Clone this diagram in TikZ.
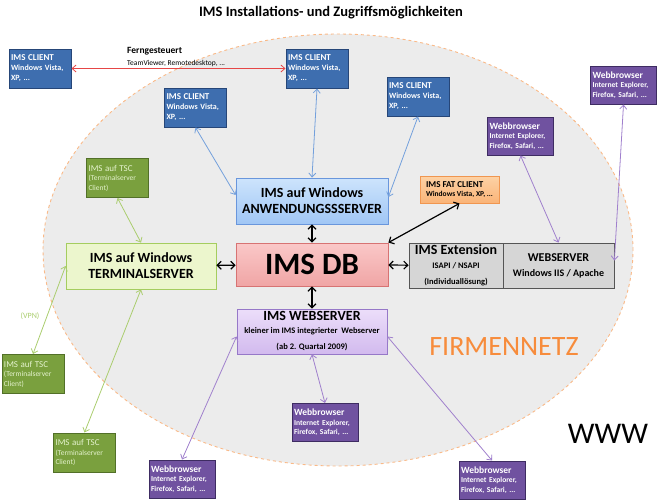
\documentclass[tikz,border=0pt]{standalone}
\usepackage{fontspec}
\setmainfont{Carlito}
\usetikzlibrary{arrows.meta}
\definecolor{clientfill}{RGB}{62,110,175}
\definecolor{clientline}{RGB}{38,70,120}
\definecolor{browserfill}{RGB}{112,82,160}
\definecolor{browserline}{RGB}{62,44,98}
\definecolor{tscfill}{RGB}{122,160,62}
\definecolor{tscline}{RGB}{82,112,40}
\definecolor{tsctext}{RGB}{228,242,205}
\definecolor{anwtop}{RGB}{205,228,252}
\definecolor{anwbot}{RGB}{160,198,245}
\definecolor{anwline}{RGB}{105,150,220}
\definecolor{dbtop}{RGB}{250,200,200}
\definecolor{dbbot}{RGB}{240,165,165}
\definecolor{dbline}{RGB}{215,115,115}
\definecolor{tsfill}{RGB}{236,246,205}
\definecolor{tsline}{RGB}{165,205,95}
\definecolor{webtop}{RGB}{236,222,250}
\definecolor{webbot}{RGB}{210,186,238}
\definecolor{webline}{RGB}{150,120,200}
\definecolor{fattop}{RGB}{253,210,165}
\definecolor{fatbot}{RGB}{250,180,120}
\definecolor{fatline}{RGB}{240,150,80}
\definecolor{extfill}{RGB}{214,214,214}
\definecolor{extline}{RGB}{85,85,85}
\definecolor{netfill}{RGB}{236,236,236}
\definecolor{netline}{RGB}{250,185,135}
\definecolor{netorange}{RGB}{247,140,60}
\definecolor{linkblue}{RGB}{115,160,220}
\definecolor{linkgreen}{RGB}{170,205,110}
\definecolor{linkpurple}{RGB}{160,128,205}
\definecolor{linkred}{RGB}{230,70,70}
\begin{document}
\begin{tikzpicture}[x=1pt,y=-1pt,
  box/.style={draw, rectangle, line width=1pt, align=center, inner sep=1pt},
  client/.style={box, fill=clientfill, draw=clientline, text=white, align=left,
    minimum width=62pt, minimum height=39pt, text width=58pt,
    font=\fontsize{8}{10}\selectfont\bfseries},
  browser/.style={box, fill=browserfill, draw=browserline, text=white, align=left,
    minimum width=66pt, minimum height=38pt, text width=62pt,
    font=\fontsize{7.6}{9.5}\selectfont\bfseries},
  tsc/.style={box, fill=tscfill, draw=tscline, text=tsctext, align=left,
    minimum width=62pt, minimum height=39pt, text width=58pt,
    font=\fontsize{7.5}{9.5}\selectfont},
  server/.style={box, line width=0.8pt, font=\fontsize{14}{16}\selectfont\bfseries},
  link/.style={line width=0.8pt, {Straight Barb[length=4pt,width=7pt]}-{Straight Barb[length=4pt,width=7pt]}},
  dblink/.style={line width=1.2pt, {Straight Barb[length=4pt,width=8pt]}-{Straight Barb[length=4pt,width=8pt]}}]
\useasboundingbox (0,0) rectangle (662,501);

% network
\draw[netline, dashed, line width=0.9pt, fill=netfill] (338,250) ellipse [x radius=295pt, y radius=216pt];
\node[font=\fontsize{14.5}{17}\selectfont\bfseries] (title) at (331,13) {IMS Installations- und Zugriffsmöglichkeiten};
\node[text=netorange, font=\fontsize{28}{30}\selectfont] (firma) at (504,347) {FIRMENNETZ};
\node[font=\fontsize{30}{32}\selectfont] (www) at (608,434) {WWW};

% servers
\node[server, top color=anwtop, bottom color=anwbot, draw=anwline, minimum width=152pt, minimum height=46pt] (anw) at (312,201) {IMS auf Windows\\ANWENDUNGSSSERVER};
\node[server, top color=dbtop, bottom color=dbbot, draw=dbline, minimum width=152pt, minimum height=43pt, font=\fontsize{31}{33}\selectfont\bfseries] (db) at (312,264.5) {IMS DB};
\node[server, fill=tsfill, draw=tsline, minimum width=150pt, minimum height=46pt] (ts) at (141,266) {IMS auf Windows\\TERMINALSERVER};
\node[server, top color=webtop, bottom color=webbot, draw=webline, minimum width=150pt, minimum height=45pt] (web) at (312,331.5) {IMS WEBSERVER\\[-3pt]{\fontsize{8.5}{10.5}\selectfont kleiner im IMS integrierter~ Webserver}\\{\fontsize{8.5}{10.5}\selectfont (ab 2. Quartal 2009)}};
\node[server, fill=extfill, draw=extline, minimum width=94pt, minimum height=45pt] (ext) at (456,265.5) {IMS Extension\\[-2pt]{\fontsize{8.5}{10.5}\selectfont ISAPI / NSAPI}\\{\fontsize{8.5}{10.5}\selectfont (Individuallösung)}};
\node[server, fill=extfill, draw=extline, minimum width=111pt, minimum height=45pt, font=\fontsize{12}{15}\selectfont\bfseries] (websrv) at (558.5,265.5) {WEBSERVER\\{\fontsize{10}{13}\selectfont Windows IIS / Apache}};
\node[box, line width=0.8pt, top color=fattop, bottom color=fatbot, draw=fatline, align=left, minimum width=79pt, minimum height=27pt, font=\fontsize{7.5}{9.5}\selectfont\bfseries] (fat) at (459.5,189.5) {{\fontsize{9}{10}\selectfont IMS FAT CLIENT}\\Windows Vista, XP, ...};

% clients
\node[client] (cl1) at (40,68.5) {{\fontsize{9}{10}\selectfont IMS CLIENT}\\Windows Vista,\\XP, ...};
\node[client] (cl2) at (317,68.5) {{\fontsize{9}{10}\selectfont IMS CLIENT}\\Windows Vista,\\XP, ...};
\node[client] (cl3) at (195.5,107.5) {{\fontsize{9}{10}\selectfont IMS CLIENT}\\Windows Vista,\\XP, ...};
\node[client] (cl4) at (418,96.5) {{\fontsize{9}{10}\selectfont IMS CLIENT}\\Windows Vista,\\XP, ...};
\node[align=left, inner sep=0pt] (fern) at (127,57.5) [anchor=west] {{\fontsize{9.5}{11}\selectfont\bfseries Ferngesteuert}\\{\fontsize{7.5}{10}\selectfont TeamViewer, Remotedesktop, ...}};

% browsers
\node[browser] (wb1) at (623.5,85) {{\fontsize{9.5}{11}\selectfont Webbrowser}\\Internet Explorer,\\Firefox, Safari, ...};
\node[browser] (wb2) at (520.5,136) {{\fontsize{9.5}{11}\selectfont Webbrowser}\\Internet Explorer,\\Firefox, Safari, ...};
\node[browser] (wb3) at (182,479) {{\fontsize{9.5}{11}\selectfont Webbrowser}\\Internet Explorer,\\Firefox, Safari, ...};
\node[browser] (wb4) at (325,422.5) {{\fontsize{9.5}{11}\selectfont Webbrowser}\\Internet Explorer,\\Firefox, Safari, ...};
\node[browser] (wb5) at (492,480) {{\fontsize{9.5}{11}\selectfont Webbrowser}\\Internet Explorer,\\Firefox, Safari, ...};

% terminalserver clients
\node[tsc] (tsc1) at (117.5,178) {{\fontsize{9}{10}\selectfont IMS auf TSC}\\(Terminalserver\\Client)};
\node[tsc] (tsc2) at (33,374) {{\fontsize{9}{10}\selectfont IMS auf TSC}\\(Terminalserver\\Client)};
\node[tsc] (tsc3) at (84.5,452.5) {{\fontsize{9}{10}\selectfont IMS auf TSC}\\(Terminalserver\\Client)};
\node[text=linkgreen, font=\fontsize{8}{10}\selectfont] (vpn) at (30,316) {(VPN)};

% connectors
\draw[link, linkred](cl1) -- (cl2);
\draw[link, linkblue](cl3.south) -- ([yshift=6pt]anw.west);
\draw[link, linkblue](cl2.south) -- (anw.north);
\draw[link, linkblue](cl4.south) -- ([yshift=4pt]anw.east);
\draw[link, linkgreen](tsc1.south) -- (ts.north);
\draw[link, linkgreen](ts.west) -- (tsc2.north);
\draw[link, linkgreen](ts.south) -- (tsc3.north);
\draw[link, linkpurple]([yshift=-5pt]web.west) -- (wb3.north);
\draw[link, linkpurple](web.south) -- (wb4.north);
\draw[link, linkpurple]([yshift=-5pt]web.east) -- (wb5.north);
\draw[link, linkpurple](wb2.south) -- (websrv.north);
\draw[link, linkpurple](wb1.south) -- ([yshift=5pt]websrv.east);
\draw[dblink](anw) -- (db);
\draw[dblink](ts) -- (db);
\draw[dblink](db) -- (ext);
\draw[dblink](db) -- (web);
\draw[dblink](db.north east) -- (fat.south);

\end{tikzpicture}
\end{document}
